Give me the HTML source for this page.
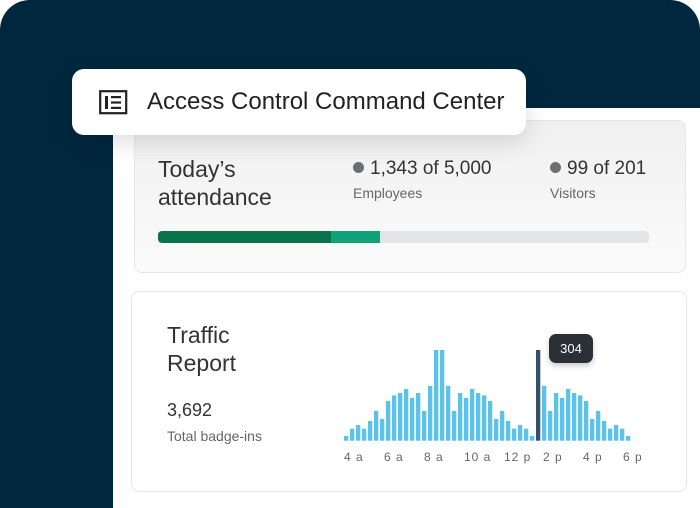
<!DOCTYPE html><html><head><style>
html,body{margin:0;width:700px;height:508px;overflow:hidden}
body{background:#fff;font-family:"Liberation Sans",sans-serif;position:relative}
.bg{position:absolute;left:0;top:0;width:700px;height:508px;background:#01273e;border-radius:30px 30px 0 0}
.panel{position:absolute;left:113px;top:108px;width:587px;height:400px;background:#fff}
.card{position:absolute;border:1px solid #e6e6e6;border-radius:8px;background:linear-gradient(#f0f0f0,#fbfbfb)}
.hdr{position:absolute;left:72px;top:69px;width:454px;height:66px;background:#fff;border-radius:12px;box-shadow:0 8px 24px rgba(0,0,0,.12)}
.t{position:absolute;color:#333;white-space:nowrap}
.dot{display:inline-block;width:11px;height:11px;border-radius:50%;background:#6b6f73;margin-right:6px;vertical-align:1px}
</style></head><body>
<div class="bg"></div><div class="panel"></div>
<div class="card" style="left:134px;top:120px;width:550px;height:151px"></div>
<div class="card" style="left:131px;top:291px;width:554px;height:199px;background:#fff"></div>
<div class="hdr">
<svg style="position:absolute;left:27px;top:21px" width="29" height="25" viewBox="0 0 29 25"><rect x="1.2" y="1.2" width="26" height="22" fill="none" stroke="#222" stroke-width="2.2"/><rect x="6" y="6" width="3" height="13" fill="#222"/><rect x="12" y="6" width="10" height="2.2" fill="#222"/><rect x="12" y="11.4" width="10" height="2.2" fill="#222"/><rect x="12" y="16.8" width="10" height="2.2" fill="#222"/></svg>
<div class="t" style="left:75px;top:19px;font-size:24px;color:#222">Access Control Command Center</div></div>
<div class="t" style="left:158px;top:155px;font-size:23px;line-height:28px">Today’s<br>attendance</div>
<div class="t" style="left:353px;top:158px;font-size:19px"><span class="dot"></span>1,343 of 5,000</div>
<div class="t" style="left:353px;top:185px;font-size:14px;color:#666">Employees</div>
<div class="t" style="left:550px;top:158px;font-size:19px"><span class="dot"></span>99 of 201</div>
<div class="t" style="left:550px;top:185px;font-size:14px;color:#666">Visitors</div>
<div style="position:absolute;left:158px;top:231px;width:491px;height:12px;border-radius:4px;background:#e3e4e6;overflow:hidden"><div style="width:173px;height:12px;background:#0c744c;float:left"></div><div style="width:49px;height:12px;background:#10a37a;float:left"></div></div>
<div class="t" style="left:167px;top:321px;font-size:23px;line-height:28px">Traffic<br>Report</div>
<div class="t" style="left:167px;top:400px;font-size:18px">3,692</div>
<div class="t" style="left:167px;top:428px;font-size:14px;color:#666">Total badge-ins</div>
<svg style="position:absolute;left:0;top:0" width="700" height="508" id="s"></svg>
<div style="position:absolute;left:549px;top:334px;width:44px;height:29px;background:#2b2f36;border-radius:7px;box-shadow:0 3px 6px rgba(0,0,0,.2);color:#fff;font-size:13px;text-align:center;line-height:29px">304</div>
<div class="t" style="left:344px;top:450px;font-size:12px;color:#666;letter-spacing:1px">4 a</div>
<div class="t" style="left:384px;top:450px;font-size:12px;color:#666;letter-spacing:1px">6 a</div>
<div class="t" style="left:424px;top:450px;font-size:12px;color:#666;letter-spacing:1px">8 a</div>
<div class="t" style="left:464px;top:450px;font-size:12px;color:#666;letter-spacing:1px">10 a</div>
<div class="t" style="left:504px;top:450px;font-size:12px;color:#666;letter-spacing:1px">12 p</div>
<div class="t" style="left:543px;top:450px;font-size:12px;color:#666;letter-spacing:1px">2 p</div>
<div class="t" style="left:583px;top:450px;font-size:12px;color:#666;letter-spacing:1px">4 p</div>
<div class="t" style="left:623px;top:450px;font-size:12px;color:#666;letter-spacing:1px">6 p</div>
<script>
var h=[4.7,12,15.7,12,19.7,29.7,21.7,39.7,45.3,47.7,51.7,42.7,47.7,29.7,54.7,90.7,90.7,54.7,29.7,47.7,42.7,51.7,47.7,45.3,39.7,21.7,29.7,19.7,12,15.7,12,4.7,90.7,54.7,29.7,47.7,42.7,51.7,47.7,45.3,39.7,21.7,29.7,19.7,12,15.7,12,4.7];
var s='';h.forEach(function(v,i){s+='<rect x="'+(344+i*6)+'" y="'+(440.7-v)+'" width="4.3" height="'+v+'" fill="'+(i==32?'#35506b':'#5dc2ea')+'"/>';});
document.getElementById('s').innerHTML=s;
</script>
</body></html>
